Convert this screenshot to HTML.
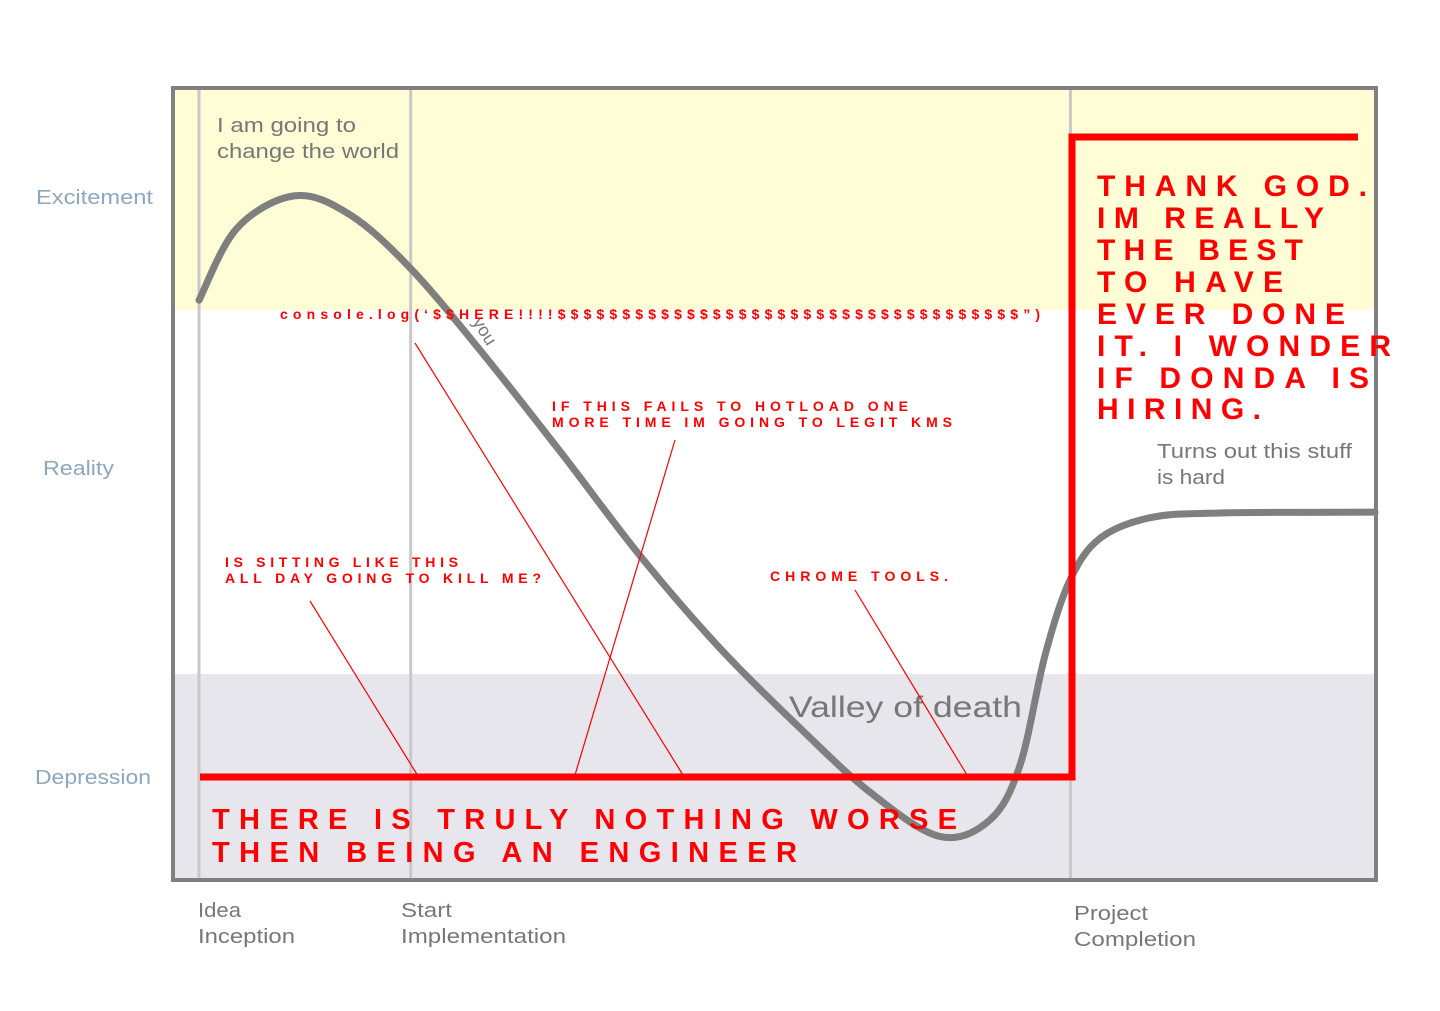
<!DOCTYPE html>
<html><head><meta charset="utf-8"><style>
html,body{margin:0;padding:0;background:#fff}
svg{display:block}
text{font-family:"Liberation Sans",sans-serif}
</style></head><body>
<svg id="chart" width="1440" height="1011" viewBox="0 0 1440 1011">
  <rect x="173" y="88" width="1203" height="222" fill="#fefdd6"/>
  <rect x="173" y="674" width="1203" height="206" fill="#e6e6ec"/>
  <g id="vlines"></g>
  <rect x="173" y="88" width="1203" height="792" fill="none" stroke="#808080" stroke-width="4"/>

  <text x="36" y="204" font-size="20" fill="#8fa6bf" textLength="117" lengthAdjust="spacingAndGlyphs">Excitement</text>
  <text x="43" y="475" font-size="20" fill="#8fa6bf" textLength="71" lengthAdjust="spacingAndGlyphs">Reality</text>
  <text x="35" y="784" font-size="20" fill="#8fa6bf" textLength="116" lengthAdjust="spacingAndGlyphs">Depression</text>

  <g font-size="20" fill="#777">
    <text x="198" y="917" textLength="43" lengthAdjust="spacingAndGlyphs">Idea</text>
    <text x="198" y="943" textLength="97" lengthAdjust="spacingAndGlyphs">Inception</text>
    <text x="401" y="917" textLength="51" lengthAdjust="spacingAndGlyphs">Start</text>
    <text x="401" y="943" textLength="165" lengthAdjust="spacingAndGlyphs">Implementation</text>
    <text x="1074" y="920" textLength="74" lengthAdjust="spacingAndGlyphs">Project</text>
    <text x="1074" y="946" textLength="122" lengthAdjust="spacingAndGlyphs">Completion</text>
  </g>

  <g font-size="20" fill="#777">
    <text x="217" y="132" textLength="139" lengthAdjust="spacingAndGlyphs">I am going to</text>
    <text x="217" y="158" textLength="182" lengthAdjust="spacingAndGlyphs">change the world</text>
    <text x="1157" y="458" textLength="195" lengthAdjust="spacingAndGlyphs">Turns out this stuff</text>
    <text x="1157" y="484" textLength="68" lengthAdjust="spacingAndGlyphs">is hard</text>
    <text x="789" y="717" font-size="30" textLength="233" lengthAdjust="spacingAndGlyphs">Valley of death</text>
    <text x="0" y="0" font-size="18" transform="translate(472,322) rotate(58)">you</text>
  </g>

  <path id="curve" fill="none" stroke="#7f7f7f" stroke-width="7" stroke-linecap="round"/>

  <g stroke="#f00" stroke-width="1.2">
    <line x1="415" y1="343" x2="683" y2="775"/>
    <line x1="675" y1="440" x2="575" y2="775"/>
    <line x1="310" y1="601" x2="418" y2="776"/>
    <line x1="855" y1="590" x2="967" y2="775"/>
  </g>
  <polyline points="200,777 1072,777 1072,137 1358,137" fill="none" stroke="#f00" stroke-width="7"/>

  <g fill="#f00" font-weight="bold">
    <text x="280" y="319" font-size="14" textLength="760" lengthAdjust="spacing">console.log(‘$$HERE!!!!$$$$$$$$$$$$$$$$$$$$$$$$$$$$$$$$$$$$”)</text>
    <text x="552" y="411" font-size="14" textLength="356" lengthAdjust="spacing">IF THIS FAILS TO HOTLOAD ONE</text>
    <text x="552" y="427" font-size="14" textLength="400" lengthAdjust="spacing">MORE TIME IM GOING TO LEGIT KMS</text>
    <text x="225" y="567" font-size="14" textLength="233" lengthAdjust="spacing">IS SITTING LIKE THIS</text>
    <text x="225" y="583" font-size="14" textLength="316" lengthAdjust="spacing">ALL DAY GOING TO KILL ME?</text>
    <text x="770" y="581" font-size="14" textLength="178" lengthAdjust="spacing">CHROME TOOLS.</text>
    <text x="212" y="829" font-size="29" textLength="745" lengthAdjust="spacing">THERE IS TRULY NOTHING WORSE</text>
    <text x="212" y="862" font-size="29" textLength="585" lengthAdjust="spacing">THEN BEING AN ENGINEER</text>
    <g font-size="30">
      <text x="1097" y="196" textLength="270" lengthAdjust="spacing">THANK GOD.</text>
      <text x="1097" y="228" textLength="227" lengthAdjust="spacing">IM REALLY</text>
      <text x="1097" y="260" textLength="206" lengthAdjust="spacing">THE BEST</text>
      <text x="1097" y="292" textLength="186" lengthAdjust="spacing">TO HAVE</text>
      <text x="1097" y="324" textLength="248" lengthAdjust="spacing">EVER DONE</text>
      <text x="1097" y="356" textLength="294" lengthAdjust="spacing">IT. I WONDER</text>
      <text x="1097" y="388" textLength="272" lengthAdjust="spacing">IF DONDA IS</text>
      <text x="1097" y="419" textLength="164" lengthAdjust="spacing">HIRING.</text>
    </g>
  </g>
</svg>
<script>
// Curve data: time progress (0..100) vs mood level (0 = bottom, 100 = top)
const curveTime = [0, 3.23, 8.16, 12.84, 17.94, 23.89, 30.7, 37.5, 44.3, 51.11, 57.06, 63.0, 67.26, 69.81, 71.94, 74.06, 76.62, 80.87, 86.82, 100];
const curveMood = [73.3, 82.4, 86.5, 84.1, 77.4, 67.0, 54.2, 41.0, 29.3, 19.2, 11.1, 5.5, 7.6, 14.5, 28.4, 37.9, 43.2, 45.8, 46.4, 46.5];
const stageNames = ['Idea Inception', 'Start Implementation', 'Project Completion'];
const stageTimes = [0, 18, 74.1];

const xScale = t => 199 + (t / 100) * (1375 - 199);
const yScale = m => 880 - (m / 100) * (880 - 89);

const ns = 'http://www.w3.org/2000/svg';
const vg = document.getElementById('vlines');
stageTimes.forEach((t, i) => {
  const l = document.createElementNS(ns, 'line');
  l.setAttribute('x1', xScale(t)); l.setAttribute('x2', xScale(t));
  l.setAttribute('y1', 88); l.setAttribute('y2', 880);
  l.setAttribute('stroke', '#c8c8cc'); l.setAttribute('stroke-width', '3');
  
  
  vg.appendChild(l);
});

const pts = curveTime.map((t, i) => [xScale(t), yScale(curveMood[i])]);
let d = 'M' + pts[0][0] + ',' + pts[0][1];
for (let i = 0; i < pts.length - 1; i++) {
  const p0 = pts[Math.max(0, i - 1)], p1 = pts[i], p2 = pts[i + 1], p3 = pts[Math.min(pts.length - 1, i + 2)];
  const c1 = [p1[0] + (p2[0] - p0[0]) / 6, p1[1] + (p2[1] - p0[1]) / 6];
  const c2 = [p2[0] - (p3[0] - p1[0]) / 6, p2[1] - (p3[1] - p1[1]) / 6];
  d += ' C' + c1 + ' ' + c2 + ' ' + p2;
}
document.getElementById('curve').setAttribute('d', d);
</script>
</body></html>
